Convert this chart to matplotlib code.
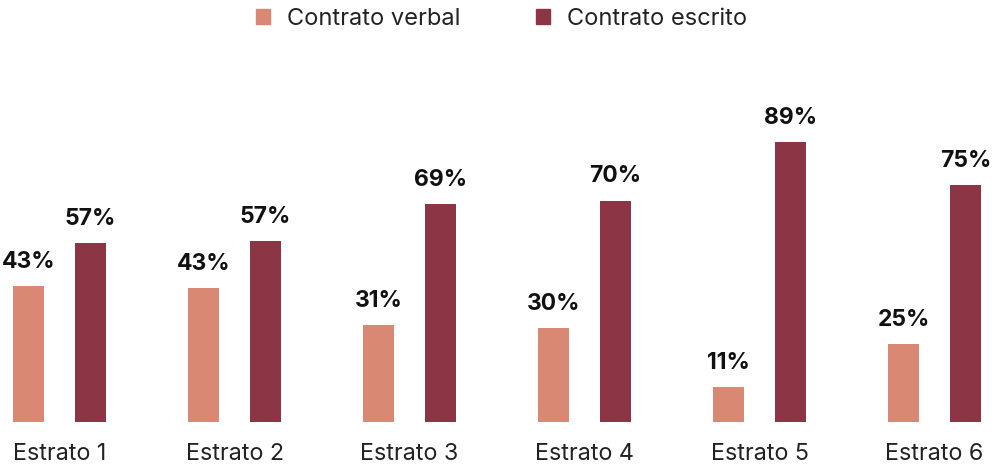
import matplotlib
matplotlib.use("Agg")
import matplotlib.pyplot as plt
from matplotlib.patches import Patch
import numpy as np

categories = ["Estrato 1", "Estrato 2", "Estrato 3", "Estrato 4", "Estrato 5", "Estrato 6"]
verbal = [43.2, 42.6, 30.8, 29.7, 11.1, 24.9]
escrito = [56.8, 57.4, 69.2, 70.3, 88.9, 75.1]
series_names = ["Contrato verbal", "Contrato escrito"]
colors = ["#D98873", "#8B3545"]

plt.rcParams['font.family'] = ['Inter', 'DejaVu Sans']

W, H = 997, 465
fig = plt.figure(figsize=(W / 100, H / 100), dpi=100)
base_px = 422
full_px = 315
ax = fig.add_axes([0, (H - base_px) / H, 1, full_px / H])
ax.set_xlim(-59.5 / 175, (W - 59.5) / 175)
ax.set_ylim(0, 100)

x = np.arange(len(categories))
bw = 31 / 175
off = 31 / 175
b1 = ax.bar(x - off, verbal, width=bw, color=colors[0], label=series_names[0])
b2 = ax.bar(x + off, escrito, width=bw, color=colors[1], label=series_names[1])

for bars, vals in ((b1, verbal), (b2, escrito)):
    for rect, v in zip(bars, vals):
        ax.annotate(f"{round(v)}%", (rect.get_x() + rect.get_width() / 2, v),
                    xytext=(0, 13), textcoords="offset points",
                    ha="center", va="baseline", fontsize=16.5, fontweight="bold",
                    color="#111111", annotation_clip=False)

for xi, c in zip(x, categories):
    ax.annotate(c, (xi, 0), xytext=(0, -27.5), textcoords="offset points",
                ha="center", va="baseline", fontsize=16.8, color="#222222",
                annotation_clip=False)

ax.set_xticks([])
ax.set_yticks([])
for s in ax.spines.values():
    s.set_visible(False)

handles = [Patch(color=colors[0]), Patch(color=colors[1])]
leg = fig.legend(handles, series_names, loc="upper center", ncol=2,
                 bbox_to_anchor=(0.503, 1.018), frameon=False, fontsize=17,
                 handlelength=0.6, handleheight=0.6, handletextpad=0.72,
                 columnspacing=3.2, borderaxespad=0.3)
for t in leg.get_texts():
    t.set_color("#222222")

fig.savefig("out.png", dpi=100)
